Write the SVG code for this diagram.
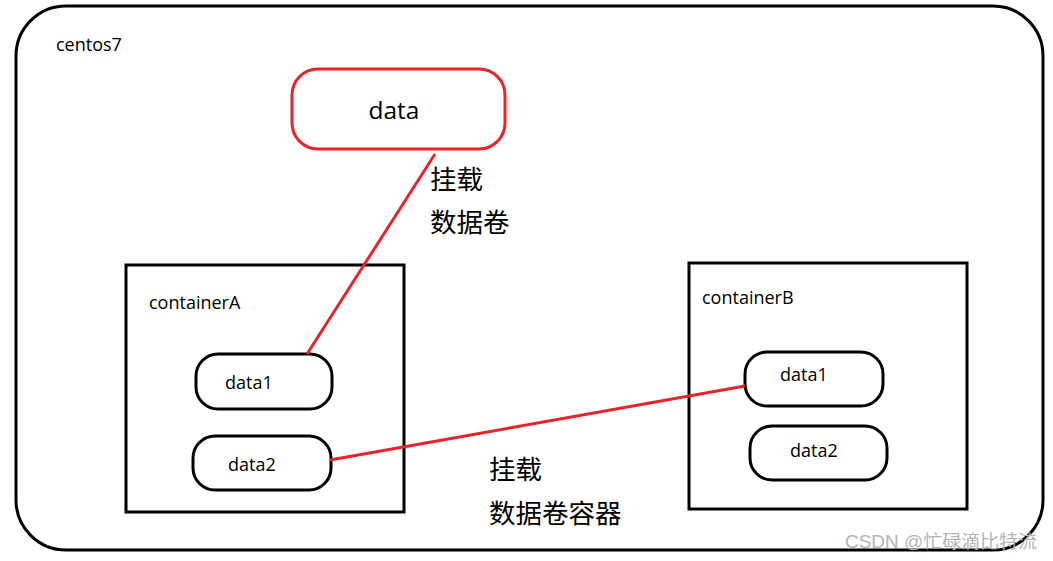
<svg xmlns="http://www.w3.org/2000/svg" width="1053" height="561" viewBox="0 0 1053 561">
<style>
.box{fill:none;stroke:#000;stroke-width:3}
.vol{fill:#fff;stroke:#000;stroke-width:3}
.red{fill:#fff;stroke:#e8232b;stroke-width:3}
.lbl{font-family:"Open Sans","Noto Sans CJK SC",sans-serif;font-size:18px;fill:#000}
.big{font-family:"Open Sans","Noto Sans CJK SC",sans-serif;font-size:24.5px;fill:#000}
.cjk{font-family:"Noto Sans CJK SC",sans-serif;font-size:26.5px;fill:#000}
.wire{fill:none;stroke:#e8232b;stroke-width:3}
.wm{font-family:"Liberation Sans","Noto Sans CJK SC",sans-serif;font-size:18px;fill:#b4b4b4}
</style>
<rect width="1053" height="561" fill="#fff"/>
<g id="centos7">
<rect class="box" x="16" y="6" width="1027" height="544" rx="50" ry="50"/>
<text class="lbl" x="56" y="51">centos7</text>
</g>
<g id="data">
<rect class="red" x="292" y="69" width="213" height="80" rx="26" ry="26"/>
<text class="big" x="394" y="119" text-anchor="middle">data</text>
</g>
<g id="containerA">
<rect class="box" x="126" y="265" width="278" height="247"/>
<text class="lbl" x="149" y="309">containerA</text>
</g>
<g id="containerA-data1">
<rect class="vol" x="196" y="354" width="136" height="55" rx="22" ry="22"/>
<text class="lbl" x="225" y="389">data1</text>
</g>
<g id="containerA-data2">
<rect class="vol" x="193" y="436" width="138" height="54" rx="22" ry="22"/>
<text class="lbl" x="228" y="471">data2</text>
</g>
<g id="containerB">
<rect class="box" x="689" y="263" width="278" height="246"/>
<text class="lbl" x="702" y="304">containerB</text>
</g>
<g id="containerB-data1">
<rect class="vol" x="745" y="352" width="138" height="54" rx="22" ry="22"/>
<text class="lbl" x="780" y="381">data1</text>
</g>
<g id="containerB-data2">
<rect class="vol" x="750" y="426" width="137" height="54" rx="22" ry="22"/>
<text class="lbl" x="790" y="457">data2</text>
</g>
<g id="connectors">
<line class="wire" x1="435" y1="154" x2="307" y2="354"/>
<line class="wire" x1="330" y1="460" x2="745" y2="386"/>
</g>
<g id="labels">
<text class="cjk" x="430" y="189">挂载</text>
<text class="cjk" x="430" y="232">数据卷</text>
<text class="cjk" x="489" y="479">挂载</text>
<text class="cjk" x="489" y="523">数据卷容器</text>
</g>
<text class="wm" x="845" y="548" textLength="192" lengthAdjust="spacingAndGlyphs">CSDN @忙碌滴比特流</text>
</svg>
